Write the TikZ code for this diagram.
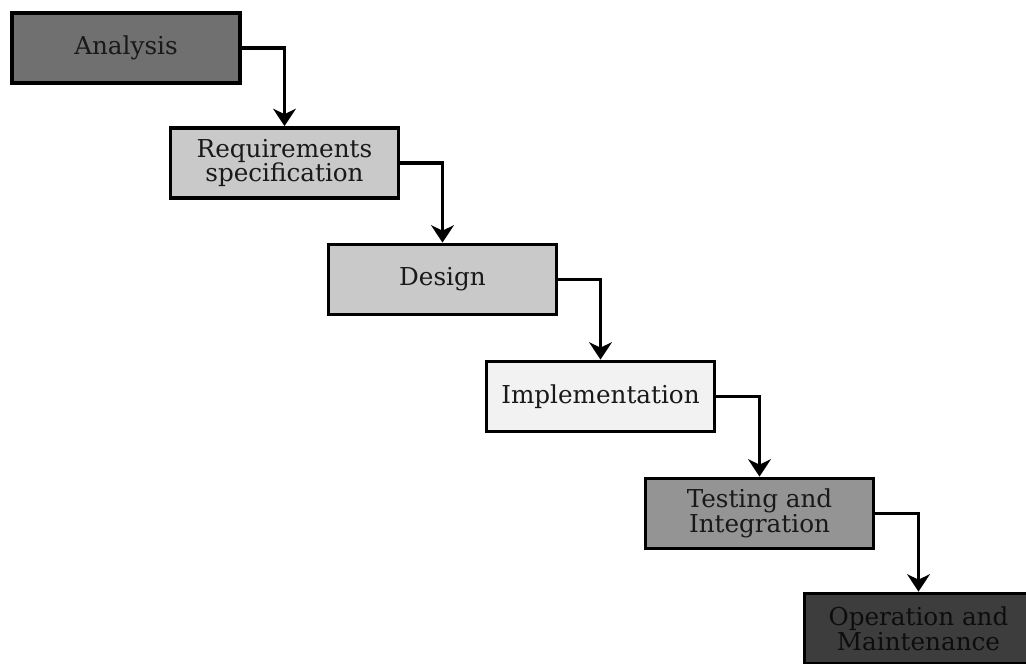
\documentclass[tikz,border=0pt]{standalone}
\usepackage{fontspec}
\setmainfont{DejaVu Serif}
\usetikzlibrary{arrows.meta}
\begin{document}
\begin{tikzpicture}[x=0.75pt,y=-0.75pt,
  stage/.style={draw=black, line width=2.8pt, minimum width=171pt, minimum height=52.5pt,
    inner sep=0pt, align=center, font=\fontsize{18.5}{18.5}\selectfont, text=black!90},
  flow/.style={line width=2.3pt, -{Stealth[length=13pt,width=17pt,inset=4pt]}}]
\useasboundingbox (0,0) rectangle (1026,664);
\fill[white] (0,0) rectangle (1026,664);
\node[stage, fill=black!56] (A) at (126,48) {Analysis};
\node[stage, fill=black!21] (R) at (284.5,163) {Requirements\\specification};
\node[stage, fill=black!21] (D) at (442.5,279.5) {Design};
\node[stage, fill=black!5] (I) at (600.5,396.5) {Implementation};
\node[stage, fill=black!42] (T) at (759.5,513.5) {Testing and\\Integration};
\node[stage, fill=black!76, text=black!95] (O) at (918.5,628.5) {Operation and\\Maintenance};
\draw[flow] (A.east) -| (R.north);
\draw[flow] (R.east) -| (D.north);
\draw[flow] (D.east) -| (I.north);
\draw[flow] (I.east) -| (T.north);
\draw[flow] (T.east) -| (O.north);
\end{tikzpicture}
\end{document}
